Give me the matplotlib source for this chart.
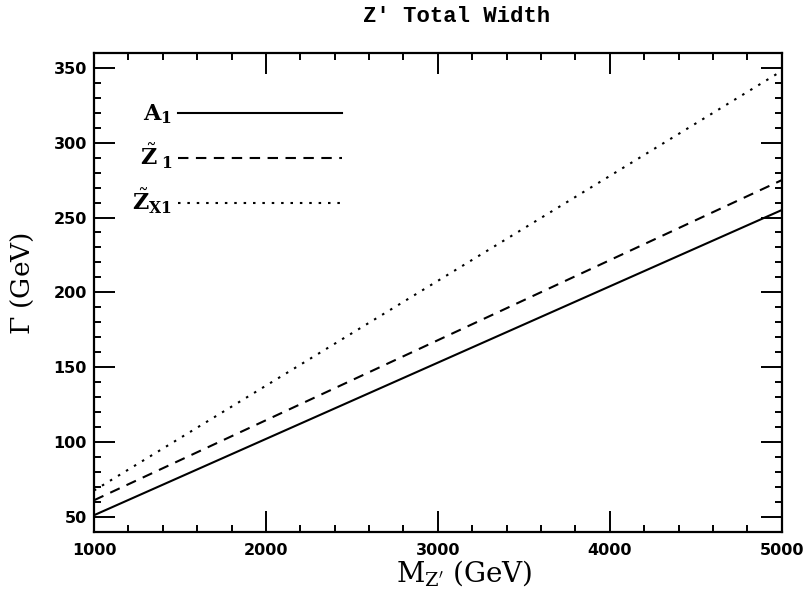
#!/usr/bin/env python3

import matplotlib
matplotlib.use('Agg')
import matplotlib.pyplot as plt
from matplotlib.ticker import MultipleLocator

# Z' mass points (GeV) and total widths
mass = [1000, 2000, 3000, 4000, 5000]
width_A1 = [51.0, 102.0, 153.0, 204.0, 255.0]
width_Z1 = [61.0, 114.5, 168.0, 221.5, 275.0]
width_ZX1 = [67.5, 137.6, 207.7, 277.8, 348.0]

labels = [r'$\mathbf{A_1}$', r'$\tilde{\mathbf{Z}}_{\mathbf{\ 1}}$', r'$\tilde{\mathbf{Z}}_{\mathbf{X1}}$']

plt.rcParams['mathtext.fontset'] = 'dejavuserif'


def draw_plot():
	fig = plt.figure(figsize=(8.06, 5.94), dpi=100)
	ax = fig.add_axes([0.1166, 0.1049, 0.8533, 0.8059])

	ax.plot(mass, width_A1, color='black', lw=1.5, ls='-', label=labels[0])
	ax.plot(mass, width_Z1, color='black', lw=1.5, ls=(0, (5.0, 3.6)), label=labels[1])
	ax.plot(mass, width_ZX1, color='black', lw=1.5, ls=(0, (1.2, 3.3)), label=labels[2])

	ax.set_xlim(1000, 5000)
	ax.set_ylim(40, 360)
	ax.xaxis.set_major_locator(MultipleLocator(1000))
	ax.xaxis.set_minor_locator(MultipleLocator(200))
	ax.yaxis.set_major_locator(MultipleLocator(50))
	ax.yaxis.set_minor_locator(MultipleLocator(10))
	ax.tick_params(which='both', direction='in', top=True, right=True, width=1.4)
	ax.tick_params(which='major', length=15)
	ax.tick_params(which='minor', length=5)
	ax.tick_params(axis='x', which='major', pad=8)
	ax.tick_params(axis='y', which='major', pad=5)
	for lab in ax.get_xticklabels() + ax.get_yticklabels():
		lab.set_fontfamily('DejaVu Sans')
		lab.set_fontweight('bold')
		lab.set_fontsize(11.5)
	for sp in ax.spines.values():
		sp.set_linewidth(1.6)

	leg = ax.legend(loc='upper left', bbox_to_anchor=(0.056, 0.897), frameon=False,
		markerfirst=False, handlelength=7.4, handletextpad=0.25,
		labelspacing=0.70, fontsize=16, borderpad=0, borderaxespad=0)

	fig.text(0.566, 0.972, "Z\u2032 Total Width", ha='center', va='center',
		family='Liberation Mono', fontweight='bold', fontsize=16)
	fig.text(0.576, 0.036, r'$\mathrm{M}_{\mathrm{Z}^{\prime}}$ (GeV)', ha='center', va='center',
		family='DejaVu Serif', fontsize=20)
	fig.text(0.028, 0.522, r'$\Gamma$ (GeV)', ha='center', va='center', rotation=90,
		family='DejaVu Serif', fontsize=19)

	plt.savefig("out.png", dpi=100)
	plt.close()
	return(0)


if __name__ == '__main__':
	draw_plot()
